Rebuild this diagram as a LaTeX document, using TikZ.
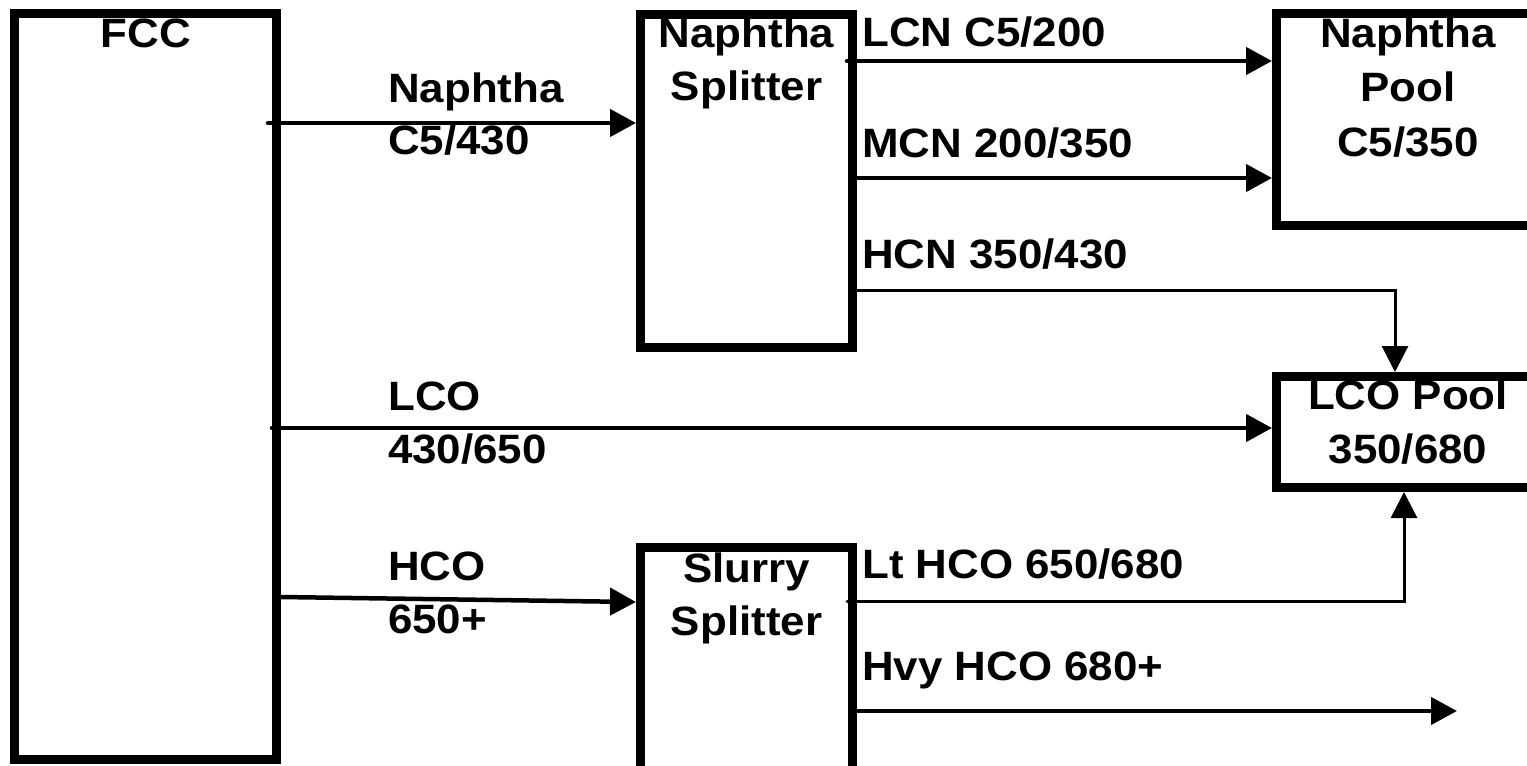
\documentclass[tikz,border=0pt]{standalone}
\usepackage{fontspec}
\setmainfont{Liberation Sans}[FakeStretch=1.07]
\usetikzlibrary{arrows.meta}
\pgfdeclarelayer{bg}
\pgfsetlayers{bg,main}
\begin{document}
\begin{tikzpicture}[x=1pt,y=-1pt,
  box/.style={draw,line width=9pt,rectangle,inner sep=0pt},
  lbl/.style={font=\bfseries\fontsize{41}{53}\selectfont,inner sep=0pt,anchor=base west},
  clbl/.style={font=\bfseries\fontsize{41}{53}\selectfont,inner sep=0pt,anchor=base},
  flow/.style={line width=4.5pt,line cap=round,-{Triangle[length=26pt,width=27pt]}},
  thinflow/.style={line width=3pt,line cap=round,-{Triangle[length=26pt,width=26pt]}}]
\useasboundingbox (0,0) rectangle (1527,766);
\clip (0,0) rectangle (1527,766);
% boxes
\node[box,minimum width=262pt,minimum height=746pt] (fcc) at (145.5,386.5) {};
\node[box,minimum width=212pt,minimum height=333.5pt] (nsplit) at (746.5,180.75) {};
\node[box,minimum width=212pt,minimum height=228pt] (slurry) at (746.5,661) {};
\node[box,minimum width=263pt,minimum height=212pt] (npool) at (1408,119.5) {};
\node[box,minimum width=263pt,minimum height=111pt] (lcopool) at (1408,432) {};
\coordinate (hvyend) at (1457,711);
\begin{pgfonlayer}{bg}
% labels
\node[clbl] (tfcc) at (146,47) {FCC};
\node[lbl] (tnaph1) at (388,102) {Naphtha};
\node[lbl] (tnaph2) at (388,154) {C5/430};
\node[clbl] (tns1) at (746.5,47) {Naphtha};
\node[clbl] (tns2) at (746.5,100) {Splitter};
\node[lbl] (tlcn) at (862,46) {LCN C5/200};
\node[lbl] (tmcn) at (862,157) {MCN 200/350};
\node[lbl] (thcn) at (862,268) {HCN 350/430};
\node[clbl] (tnp1) at (1408,47) {Naphtha};
\node[clbl] (tnp2) at (1408,101) {Pool};
\node[clbl] (tnp3) at (1408,156) {C5/350};
\node[lbl] (tlco1) at (388,410) {LCO};
\node[lbl] (tlco2) at (388,463) {430/650};
\node[clbl] (tlp1) at (1408,409) {LCO Pool};
\node[clbl] (tlp2) at (1408,463) {350/680};
\node[lbl] (thco1) at (388,580) {HCO};
\node[lbl] (thco2) at (388,633) {650+};
\node[clbl] (tsl1) at (746.5,582) {Slurry};
\node[clbl] (tsl2) at (746.5,635) {Splitter};
\node[lbl] (tlt) at (862,578) {Lt HCO 650/680};
\node[lbl] (thvy) at (862,680) {Hvy HCO 680+};
% connectors
\draw[flow] (fcc.east |- 0,123) ++(-13,0) -- (nsplit.west |- 0,123);
\draw[flow] (nsplit.east |- 0,61) ++(-10,0) -- (npool.west |- 0,61);
\draw[flow] (nsplit.east |- 0,178) -- (npool.west |- 0,178);
\draw[thinflow] (nsplit.east |- 0,290) -| ([xshift=-13pt]lcopool.north);
\draw[flow] (fcc.east |- 0,428) ++(-9,0) -- (lcopool.west |- 0,428);
\draw[flow] (fcc.east |- 0,597) -- (slurry.west |- 0,602);
\draw[thinflow] (slurry.east |- 0,601) ++(-10,0) -| ([xshift=-4pt]lcopool.south);
\draw[flow] (slurry.east |- 0,711) -- (hvyend);
\end{pgfonlayer}
\end{tikzpicture}
\end{document}
